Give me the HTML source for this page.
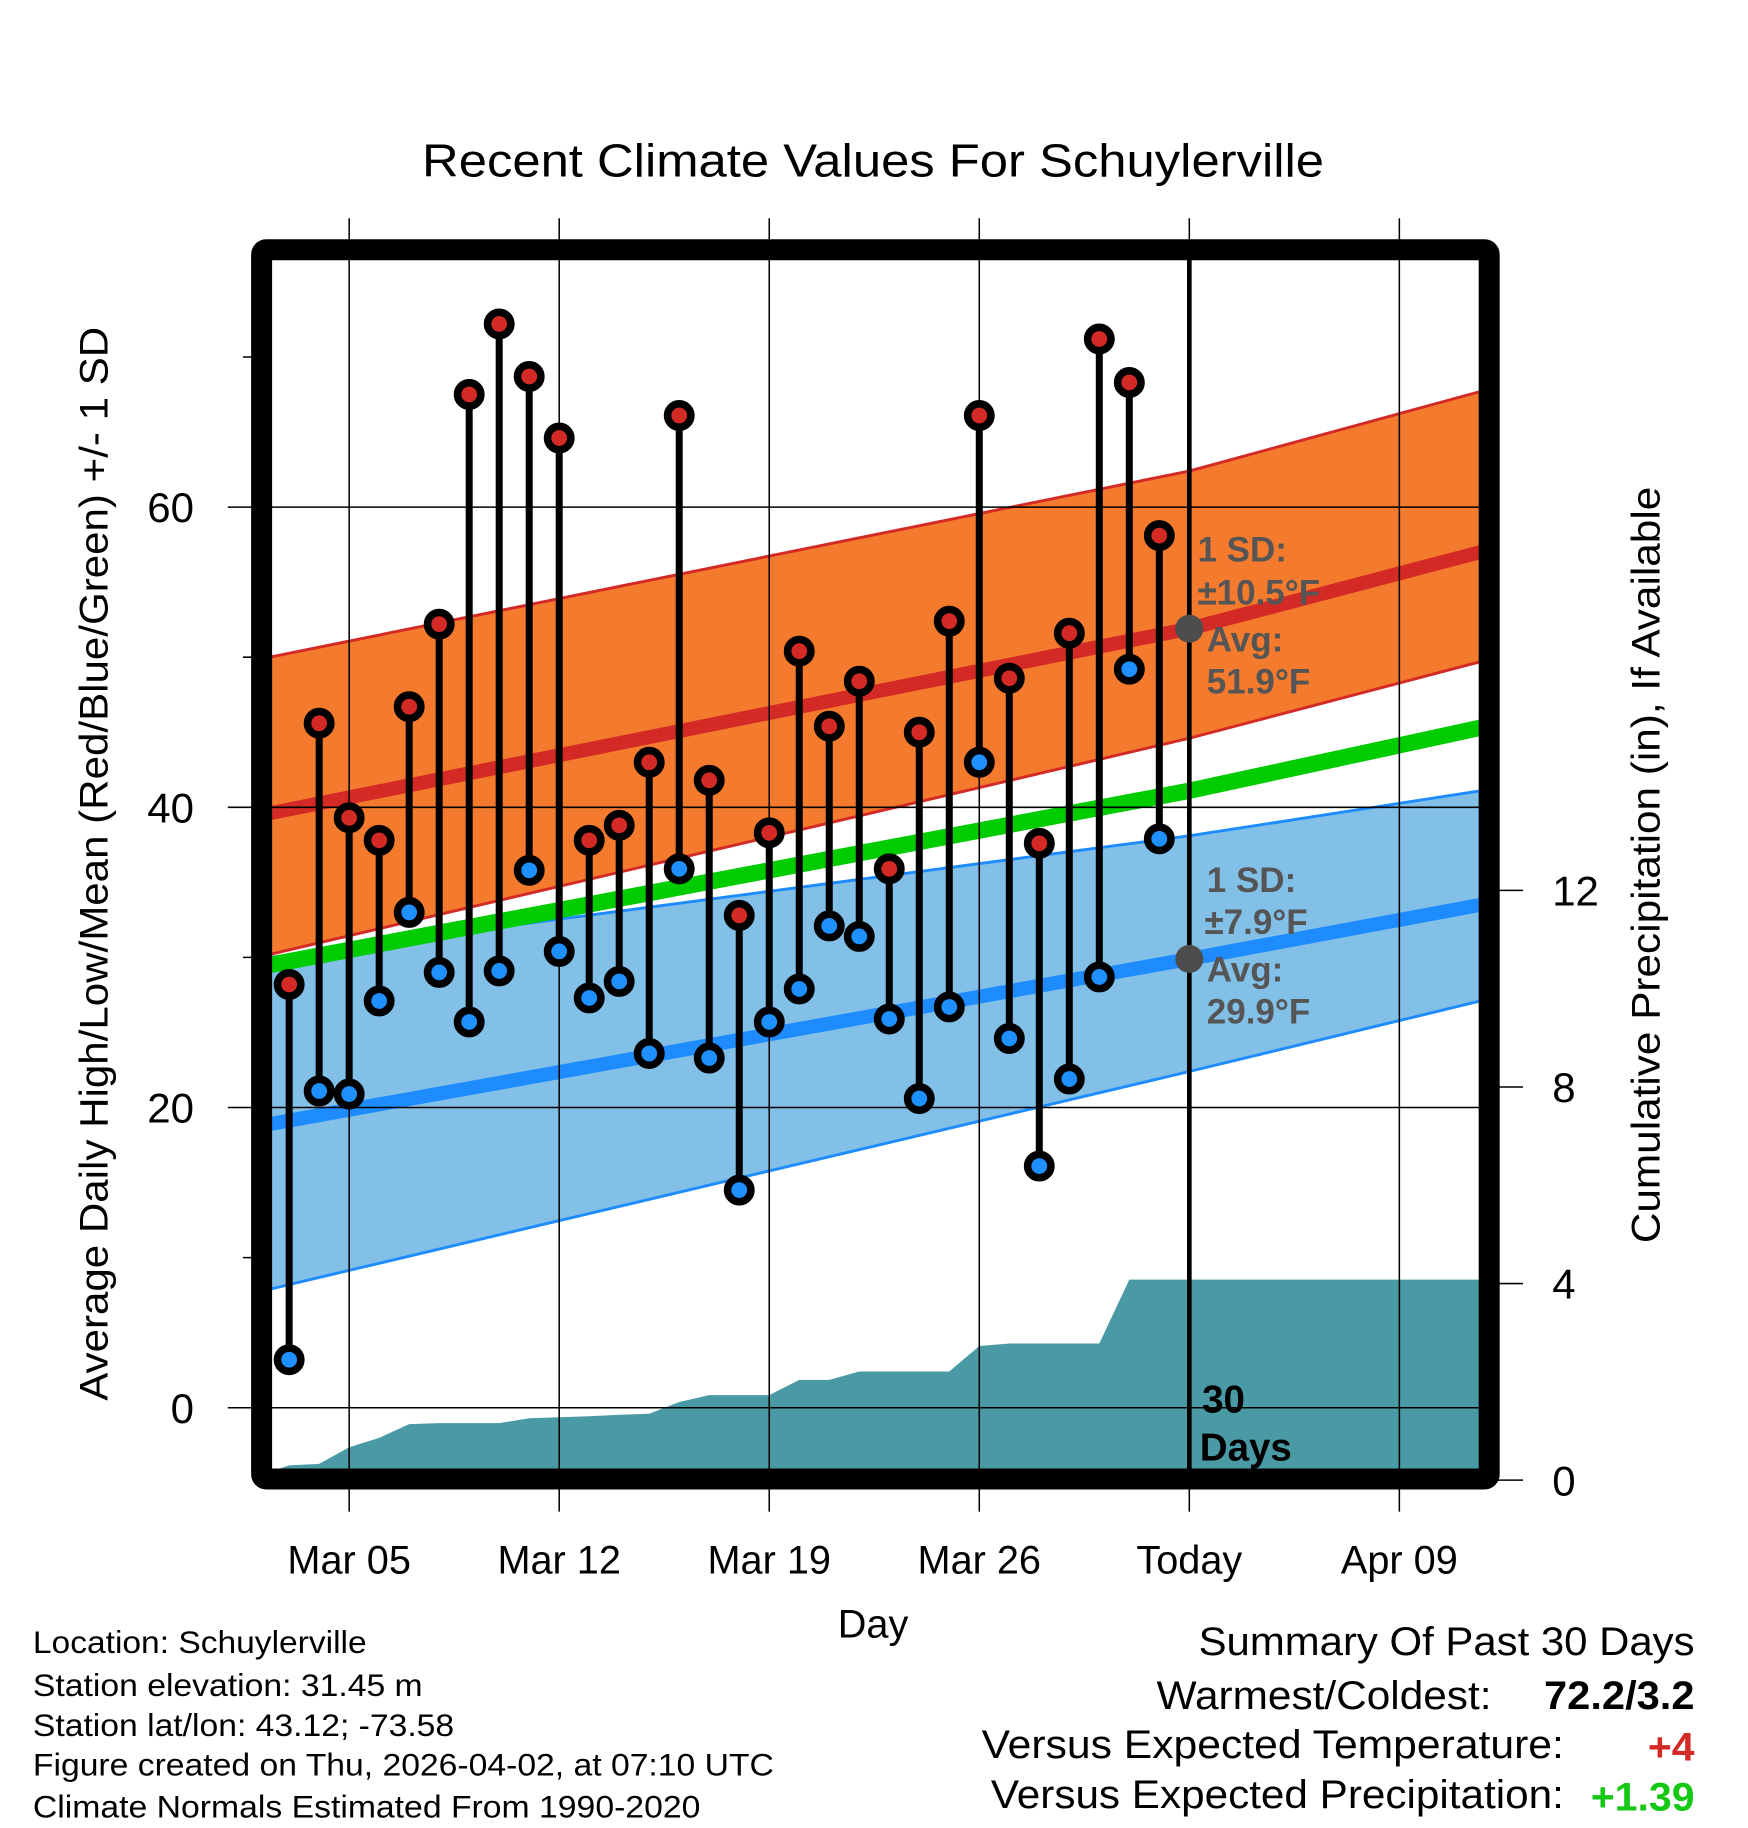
<!DOCTYPE html>
<html><head><meta charset="utf-8"><style>
html,body{margin:0;padding:0;background:#fff;}
svg{display:block;font-family:"Liberation Sans",sans-serif;}
</style></head><body>
<svg id="chart" width="1748" height="1828" viewBox="-0.2 0 1498 1566" preserveAspectRatio="none" xmlns="http://www.w3.org/2000/svg">
<defs><clipPath id="plotclip"><rect x="231" y="221" width="1038" height="1040"/></clipPath></defs>
<rect x="-5" y="0" width="1510" height="1570" fill="#fff"/>
<text x="748" y="151" font-size="40" text-anchor="middle" textLength="773" lengthAdjust="spacingAndGlyphs">Recent Climate Values For Schuylerville</text>
<g id="bands" clip-path="url(#plotclip)"></g>
<g id="grid"></g>
<g id="marks" clip-path="url(#plotclip)"></g>
<rect x="224" y="214" width="1052" height="1053" fill="none" stroke="#000" stroke-width="18" rx="4"/>
<g id="axes"></g>
<g fill="#555" font-weight="bold" font-size="30">
<text x="1026" y="481">1 SD:</text>
<text x="1026" y="518">±10.5°F</text>
<text x="1034" y="558">Avg:</text>
<text x="1034" y="594">51.9°F</text>
</g>
<g fill="#555" font-weight="bold" font-size="30">
<text x="1034" y="764">1 SD:</text>
<text x="1032" y="800">±7.9°F</text>
<text x="1034" y="841">Avg:</text>
<text x="1034" y="877">29.9°F</text>
</g>
<g font-weight="bold" font-size="33">
<text x="1030" y="1210">30</text>
<text x="1028" y="1251">Days</text>
</g>
<text x="748" y="1403" font-size="34" text-anchor="middle">Day</text>
<text transform="translate(92,740) rotate(-90)" font-size="34" text-anchor="middle" textLength="920" lengthAdjust="spacingAndGlyphs">Average Daily High/Low/Mean (Red/Blue/Green) +/- 1 SD</text>
<text transform="translate(1422,741) rotate(-90)" font-size="34" text-anchor="middle" textLength="648" lengthAdjust="spacingAndGlyphs">Cumulative Precipitation (in), If Available</text>
<g font-size="27">
<text x="28" y="1416" textLength="286" lengthAdjust="spacingAndGlyphs">Location: Schuylerville</text>
<text x="28" y="1453" textLength="334" lengthAdjust="spacingAndGlyphs">Station elevation: 31.45 m</text>
<text x="28" y="1487" textLength="361" lengthAdjust="spacingAndGlyphs">Station lat/lon: 43.12; -73.58</text>
<text x="28" y="1521" textLength="635" lengthAdjust="spacingAndGlyphs">Figure created on Thu, 2026-04-02, at 07:10 UTC</text>
<text x="28" y="1557" textLength="572" lengthAdjust="spacingAndGlyphs">Climate Normals Estimated From 1990-2020</text>
</g>
<g font-size="34">
<text x="1027" y="1418" textLength="425" lengthAdjust="spacingAndGlyphs">Summary Of Past 30 Days</text>
<text x="991" y="1464" textLength="287" lengthAdjust="spacingAndGlyphs">Warmest/Coldest:</text>
<text x="1323" y="1464" font-weight="bold" textLength="129" lengthAdjust="spacingAndGlyphs">72.2/3.2</text>
<text x="841" y="1506" textLength="499" lengthAdjust="spacingAndGlyphs">Versus Expected Temperature:</text>
<text x="1412" y="1508" font-weight="bold" fill="#d42a26" textLength="40" lengthAdjust="spacingAndGlyphs">+4</text>
<text x="849" y="1549" textLength="491" lengthAdjust="spacingAndGlyphs">Versus Expected Precipitation:</text>
<text x="1363" y="1551" font-weight="bold" fill="#14c814" textLength="89" lengthAdjust="spacingAndGlyphs">+1.39</text>
</g>
</svg>
<script>
const highs = [28.2,45.6,39.3,37.8,46.7,52.2,67.5,72.2,68.7,64.6,37.8,38.8,43.0,66.1,41.8,32.8,38.3,50.4,45.4,48.4,35.9,45.0,52.4,66.1,48.6,37.6,51.6,71.2,68.3,58.1];
const lows = [3.2,21.1,20.9,27.1,33.0,29.0,25.7,29.1,35.8,30.4,27.3,28.4,23.6,35.9,23.3,14.5,25.7,27.9,32.1,31.4,25.9,20.6,26.7,43.0,24.6,16.1,21.9,28.7,49.2,37.9];
const precip = [0.3,0.33,0.67,0.86,1.14,1.16,1.16,1.16,1.26,1.28,1.3,1.33,1.35,1.59,1.73,1.73,1.73,2.04,2.04,2.21,2.21,2.21,2.21,2.73,2.78,2.78,2.78,2.78,4.08,4.08];
const normDays = [-0.65, 30, 39.7];
const redHi = [50.0,62.4,67.7];
const redMean = [39.6,51.9,57.0];
const redLo = [30.2,44.6,49.7];
const greenMean = [29.5,41.1,45.3];
const blueHi = [30.0,38.1,41.1];
const blueMean = [18.9,29.9,33.5];
const blueLo = [7.9,22.4,27.1];
const xTickDays = [2,9,16,23,30,37];
const xTickLabels = ["Mar 05","Mar 12","Mar 19","Mar 26","Today","Apr 09"];
const yTicks = [0,20,40,60];
const yMinor = [10,30,50,70];
const pTicks = [0,4,8,12];

const NS = "http://www.w3.org/2000/svg";
const X = d => 247.6 + 25.714 * d;
const Y = t => 1206 - 12.86 * t;
const P = p => 1268 - 42.1 * p;
function mk(tag, attrs, parent){const e=document.createElementNS(NS,tag);for(const k in attrs)e.setAttribute(k,attrs[k]);parent.appendChild(e);return e;}
const bands=document.getElementById('bands'), grid=document.getElementById('grid'), marks=document.getElementById('marks'), axes=document.getElementById('axes');
const pts = arr => normDays.map((d,i)=>X(d)+','+Y(arr[i]));
function band(hi,lo,fill,stroke,name){
  const p = pts(hi).concat(pts(lo).reverse());
  const e = mk('polygon',{points:p.join(' '),fill:fill},bands);
  
  
  [hi,lo].forEach(a=>{const l=mk('polyline',{points:pts(a).join(' '),fill:'none',stroke:stroke,'stroke-width':2.5},bands);
    
    });
}
band(redHi,redLo,'#f47a2d','#d42a26','normal-high-band');
band(blueHi,blueLo,'#82c0e8','#1e8cff','normal-low-band');
function line(arr,color,w,name){const l=mk('polyline',{points:pts(arr).join(' '),fill:'none',stroke:color,'stroke-width':w},bands);
  
  }
line(redMean,'#d42a26',12,'normal-high-line');
line(blueMean,'#1e8cff',12,'normal-low-line');
line(greenMean,'#00cc00',14,'normal-mean-line');
let pp = [X(-0.65)+','+P(0.17)];
precip.forEach((v,i)=>pp.push(X(i)+','+P(v)));
pp.push(X(39.7)+','+P(precip[precip.length-1]));
pp.push(X(39.7)+','+P(-0.5)); pp.push(X(-0.65)+','+P(-0.5));
const pa = mk('polygon',{points:pp.join(' '),fill:'#4a9aa5'},bands);


xTickDays.forEach((d,i)=>{
  const g=mk('line',{x1:X(d),x2:X(d),y1:187,y2:1295,stroke:'#000','stroke-width':1.3},grid);
  
  
  const t=mk('text',{x:X(d),y:1348,'font-size':34,'text-anchor':'middle'},axes);
  t.textContent=xTickLabels[i];
  
  
});
yTicks.forEach(v=>{
  const g=mk('line',{x1:195,x2:1268,y1:Y(v),y2:Y(v),stroke:'#000','stroke-width':1.3},grid);
  
  
  const t=mk('text',{x:166,y:Y(v)+13,'font-size':36,'text-anchor':'end'},axes);
  t.textContent=v;
  
  
});
yMinor.forEach(v=>{
  const g=mk('line',{x1:208,x2:224,y1:Y(v),y2:Y(v),stroke:'#000','stroke-width':1.3},grid);
  
  
});
pTicks.forEach(v=>{
  const g=mk('line',{x1:1276,x2:1305,y1:P(v),y2:P(v),stroke:'#000','stroke-width':1.3},axes);
  
  
  const t=mk('text',{x:1330,y:P(v)+13,'font-size':36},axes);
  t.textContent=v;
  
  
});
const tl=mk('line',{x1:X(30),x2:X(30),y1:214,y2:1267,stroke:'#000','stroke-width':4},marks);


[[51.9],[29.9]].forEach(a=>{const c=mk('circle',{cx:X(30),cy:Y(a[0]),r:12,fill:'#4d4d4d'},marks);
  
  });
highs.forEach((h,i)=>{
  const l=mk('line',{x1:X(i),x2:X(i),y1:Y(h),y2:Y(lows[i]),stroke:'#000','stroke-width':6},marks);
  
  
});
highs.forEach((h,i)=>{
  const c=mk('circle',{cx:X(i),cy:Y(h),r:10,fill:'#d42a26',stroke:'#000','stroke-width':6.5},marks);
  
  
  const c2=mk('circle',{cx:X(i),cy:Y(lows[i]),r:10,fill:'#1e90ff',stroke:'#000','stroke-width':6.5},marks);
  
  
});
</script>
</body></html>
